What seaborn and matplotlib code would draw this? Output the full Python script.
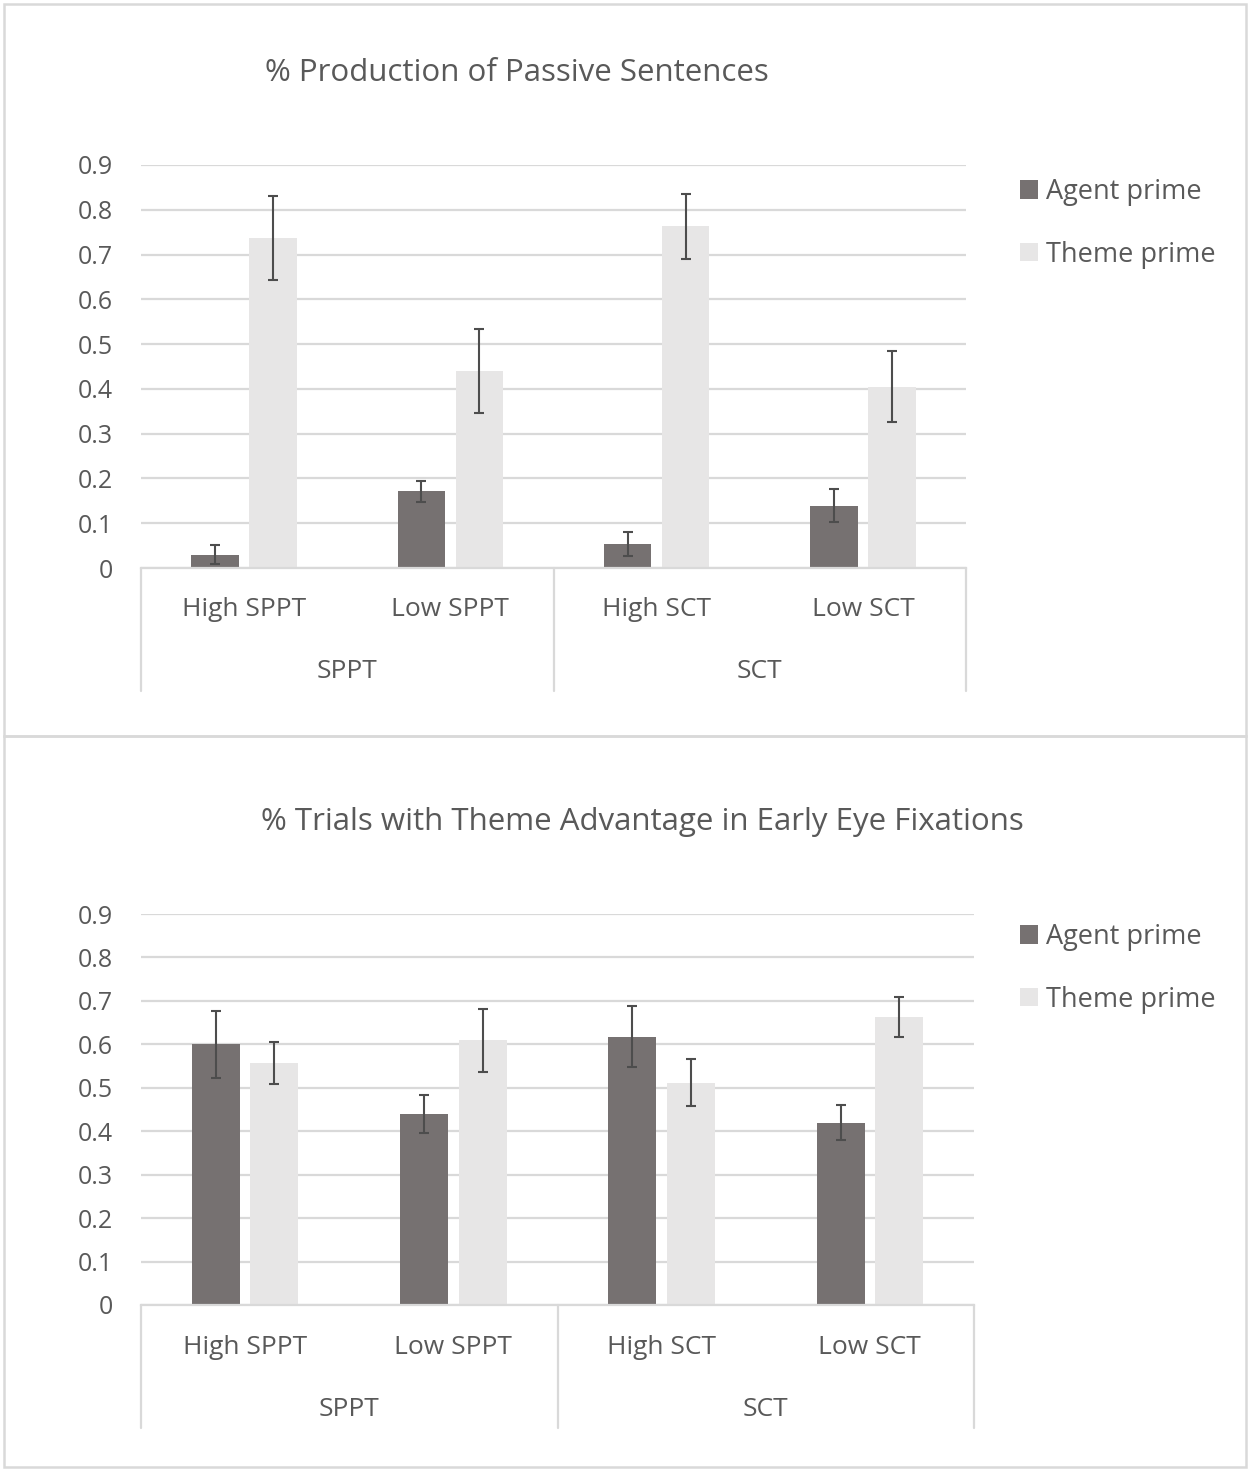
import matplotlib
matplotlib.use("Agg")
import matplotlib.pyplot as plt
from matplotlib.patches import Patch, Rectangle
from matplotlib.lines import Line2D
import matplotlib.transforms as mtransforms
import numpy as np
import pandas as pd
import seaborn as sns

# ---------------- data ----------------
conditions = ["High SPPT", "Low SPPT", "High SCT", "Low SCT"]
groups = ["SPPT", "SCT"]
primes = ["Agent prime", "Theme prime"]

passive_agent = [0.030, 0.171, 0.053, 0.139]
passive_agent_err = [0.021, 0.023, 0.027, 0.037]
passive_theme = [0.737, 0.440, 0.763, 0.405]
passive_theme_err = [0.093, 0.094, 0.073, 0.080]

fix_agent = [0.600, 0.440, 0.618, 0.420]
fix_agent_err = [0.077, 0.043, 0.070, 0.041]
fix_theme = [0.557, 0.609, 0.512, 0.663]
fix_theme_err = [0.049, 0.073, 0.054, 0.045]

yticks = [0, 0.1, 0.2, 0.3, 0.4, 0.5, 0.6, 0.7, 0.8, 0.9]
ytick_labels = ["0", "0.1", "0.2", "0.3", "0.4", "0.5", "0.6", "0.7", "0.8", "0.9"]

titles = ["% Production of Passive Sentences",
          "% Trials with Theme Advantage in Early Eye Fixations"]

# ---------------- style ----------------
sns.set_theme(style="white")
plt.rcParams["font.family"] = ["Open Sans", "DejaVu Sans"]

AGENT_C = "#767171"
THEME_C = "#E7E6E6"
GRID_C = "#D9D9D9"
TEXT_C = "#595959"
ERR_C = "#4D4D4D"

W, H = 1249, 1471
fig = plt.figure(figsize=(W / 100, H / 100), dpi=100)


def fx(px):
    return px / W


def fy(py):
    return 1 - py / H


# panel borders
for (y0, y1) in [(4, 736), (736, 1467)]:
    fig.patches.append(Rectangle((fx(4), fy(y1)), fx(1246) - fx(4), fy(y0) - fy(y1),
                                 transform=fig.transFigure, fill=False,
                                 edgecolor=GRID_C, linewidth=1.8, zorder=0))

panels = [
    dict(agent=passive_agent, agent_err=passive_agent_err,
         theme=passive_theme, theme_err=passive_theme_err,
         box=(141, 966, 165, 568), title_xy=(517, 73), legend_y=192),
    dict(agent=fix_agent, agent_err=fix_agent_err,
         theme=fix_theme, theme_err=fix_theme_err,
         box=(141, 974, 914, 1305), title_xy=(642, 822), legend_y=937),
]

for i, p in enumerate(panels):
    l, r, t, b = p["box"]
    ax = fig.add_axes([fx(l), fy(b), fx(r) - fx(l), fy(t) - fy(b)])
    df = pd.DataFrame({
        "condition": conditions * 2,
        "prime": [primes[0]] * 4 + [primes[1]] * 4,
        "value": list(p["agent"]) + list(p["theme"]),
    })
    sns.barplot(data=df, x="condition", y="value", hue="prime",
                palette=[AGENT_C, THEME_C], width=0.563, gap=0.18,
                errorbar=None, legend=False, ax=ax, zorder=3,
                saturation=1, linewidth=0)
    errs = [p["agent_err"], p["theme_err"]]
    vals = [p["agent"], p["theme"]]
    bar_containers = list(ax.containers)
    for k, cont in enumerate(bar_containers):
        xs = [bar.get_x() + bar.get_width() / 2 for bar in cont]
        ax.errorbar(xs, vals[k], yerr=errs[k], fmt="none", ecolor=ERR_C,
                    elinewidth=1.5, capsize=3.6, capthick=1.5, zorder=4)

    ax.set_xlim(-0.5, 3.5)
    ax.set_ylim(0, 0.9)
    ax.set_yticks(yticks)
    ax.set_yticklabels(ytick_labels)
    ax.yaxis.grid(True, color=GRID_C, linewidth=1.6, zorder=0)
    ax.set_axisbelow(True)
    for s in ["top", "right", "left"]:
        ax.spines[s].set_visible(False)
    ax.spines["bottom"].set_color(GRID_C)
    ax.spines["bottom"].set_linewidth(1.6)
    ax.spines["bottom"].set_zorder(5)
    ax.tick_params(axis="y", length=0, pad=20, labelsize=18, labelcolor=TEXT_C)
    ax.tick_params(axis="x", length=0, labelbottom=False)
    ax.set_xlabel("")
    ax.set_ylabel("")

    height_px = b - t
    trans = mtransforms.blended_transform_factory(ax.transData, ax.transAxes)
    depth = -123 / height_px
    for xv in [-0.5, 1.5, 3.5]:
        ax.add_line(Line2D([xv, xv], [0, depth], transform=trans, color=GRID_C,
                           linewidth=1.6, clip_on=False))
    for ci, c in enumerate(conditions):
        ax.text(ci, -42 / height_px, c, transform=trans, ha="center", va="center",
                fontsize=19, color=TEXT_C)
    for gi, g in enumerate(groups):
        ax.text(0.5 + 2 * gi, -104 / height_px, g, transform=trans, ha="center",
                va="center", fontsize=19, color=TEXT_C)

    fig.text(fx(p["title_xy"][0]), fy(p["title_xy"][1]), titles[i],
             ha="center", va="center", fontsize=22.5, color=TEXT_C)

    handles = [Patch(facecolor=AGENT_C, edgecolor="none"),
               Patch(facecolor=THEME_C, edgecolor="none")]
    fig.legend(handles, primes, loc="upper left", frameon=False,
               bbox_to_anchor=(fx(1020), fy(p["legend_y"] - 14)),
               bbox_transform=fig.transFigure, fontsize=19.5,
               labelcolor=TEXT_C, handlelength=0.65, handleheight=0.65,
               handletextpad=0.3, labelspacing=1.28, borderpad=0,
               borderaxespad=0)

fig.savefig("out.png", dpi=100, facecolor="white")
